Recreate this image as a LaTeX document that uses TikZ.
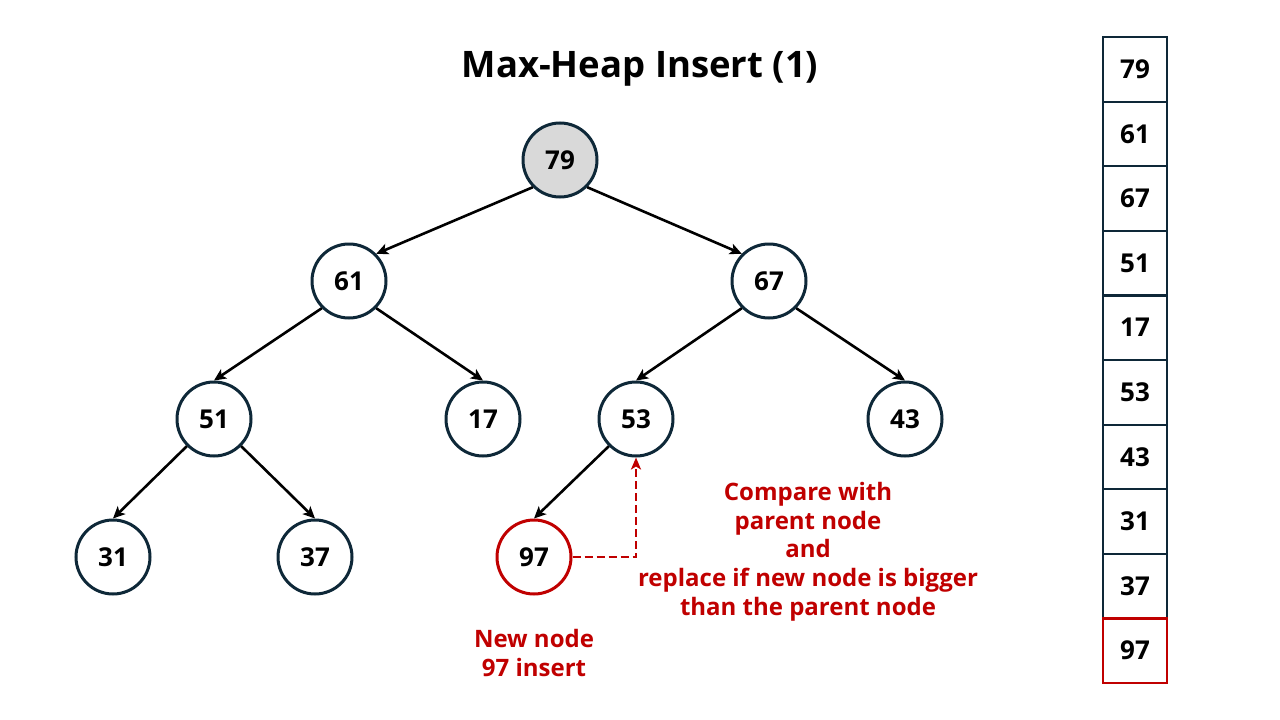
\documentclass[tikz,border=0pt]{standalone}
\usepackage{fontspec}
\setmainfont{Open Sans}
\usetikzlibrary{arrows.meta}
\definecolor{navy}{RGB}{14,40,56}
\definecolor{darkred}{RGB}{192,0,0}
\definecolor{rootgray}{RGB}{217,217,217}
\tikzset{
  hnode/.style={circle, draw=navy, line width=3pt, minimum size=74pt, inner sep=0pt, font=\fontsize{26}{28}\selectfont\bfseries, fill=white},
  newnode/.style={hnode, draw=darkred},
  edge/.style={line width=2.6pt, -{Stealth[length=12pt,width=11pt,inset=3pt]}},
  cmp/.style={darkred, line width=2.8pt, dash pattern=on 8pt off 4pt, -{Stealth[length=12pt,width=10pt,inset=3pt]}},
  cell/.style={draw=navy, line width=2.2pt, minimum width=64pt, minimum height=64.6pt, inner sep=0pt, font=\fontsize{26}{28}\selectfont\bfseries},
  redcell/.style={cell, draw=darkred},
  redtext/.style={darkred, font=\fontsize{24}{28.7}\selectfont\bfseries, align=center}
}
\begin{document}
\begin{tikzpicture}[x=1pt,y=-1pt]
\useasboundingbox (0,0) rectangle (1280,720);
\node[font=\fontsize{36.5}{40}\selectfont\bfseries] (title) at (640,69) {Max-Heap Insert (1)};
% tree
\node[hnode, fill=rootgray] (n79) at (560,160) {79};
\node[hnode] (n61) at (349,281) {61};
\node[hnode] (n67) at (769,281) {67};
\node[hnode] (n51) at (214,419) {51};
\node[hnode] (n17) at (483,419) {17};
\node[hnode] (n53) at (636,419) {53};
\node[hnode] (n43) at (905,419) {43};
\node[hnode] (n31) at (113,557) {31};
\node[hnode] (n37) at (315,557) {37};
\node[newnode] (n97) at (534,557) {97};
\draw[edge] (n79.south west) -- (n61.north east);
\draw[edge] (n79.south east) -- (n67.north west);
\draw[edge] (n61.south west) -- (n51.north);
\draw[edge] (n61.south east) -- (n17.north);
\draw[edge] (n67.south west) -- (n53.north);
\draw[edge] (n67.south east) -- (n43.north);
\draw[edge] (n51.south west) -- (n31.north);
\draw[edge] (n51.south east) -- (n37.north);
\draw[edge] (n53.south west) -- (n97.north);
\draw[cmp] (n97.east) -| (n53.south);
% texts
\node[redtext] (cmpnote) at (808,551.5) {Compare with\\parent node\\and\\replace if new node is bigger\\than the parent node};
\node[redtext] (newnote) at (534,653) {New node\\97 insert};
% array
\foreach \v [count=\i from 0] in {79,61,67,51,17,53,43,31,37} {
  \node[cell] (a\i) at (1135,{37+32.3+64.6*\i}) {\v};
}
\node[redcell] (a9) at (1135,{37+32.3+64.6*9}) {97};
\end{tikzpicture}
\end{document}
